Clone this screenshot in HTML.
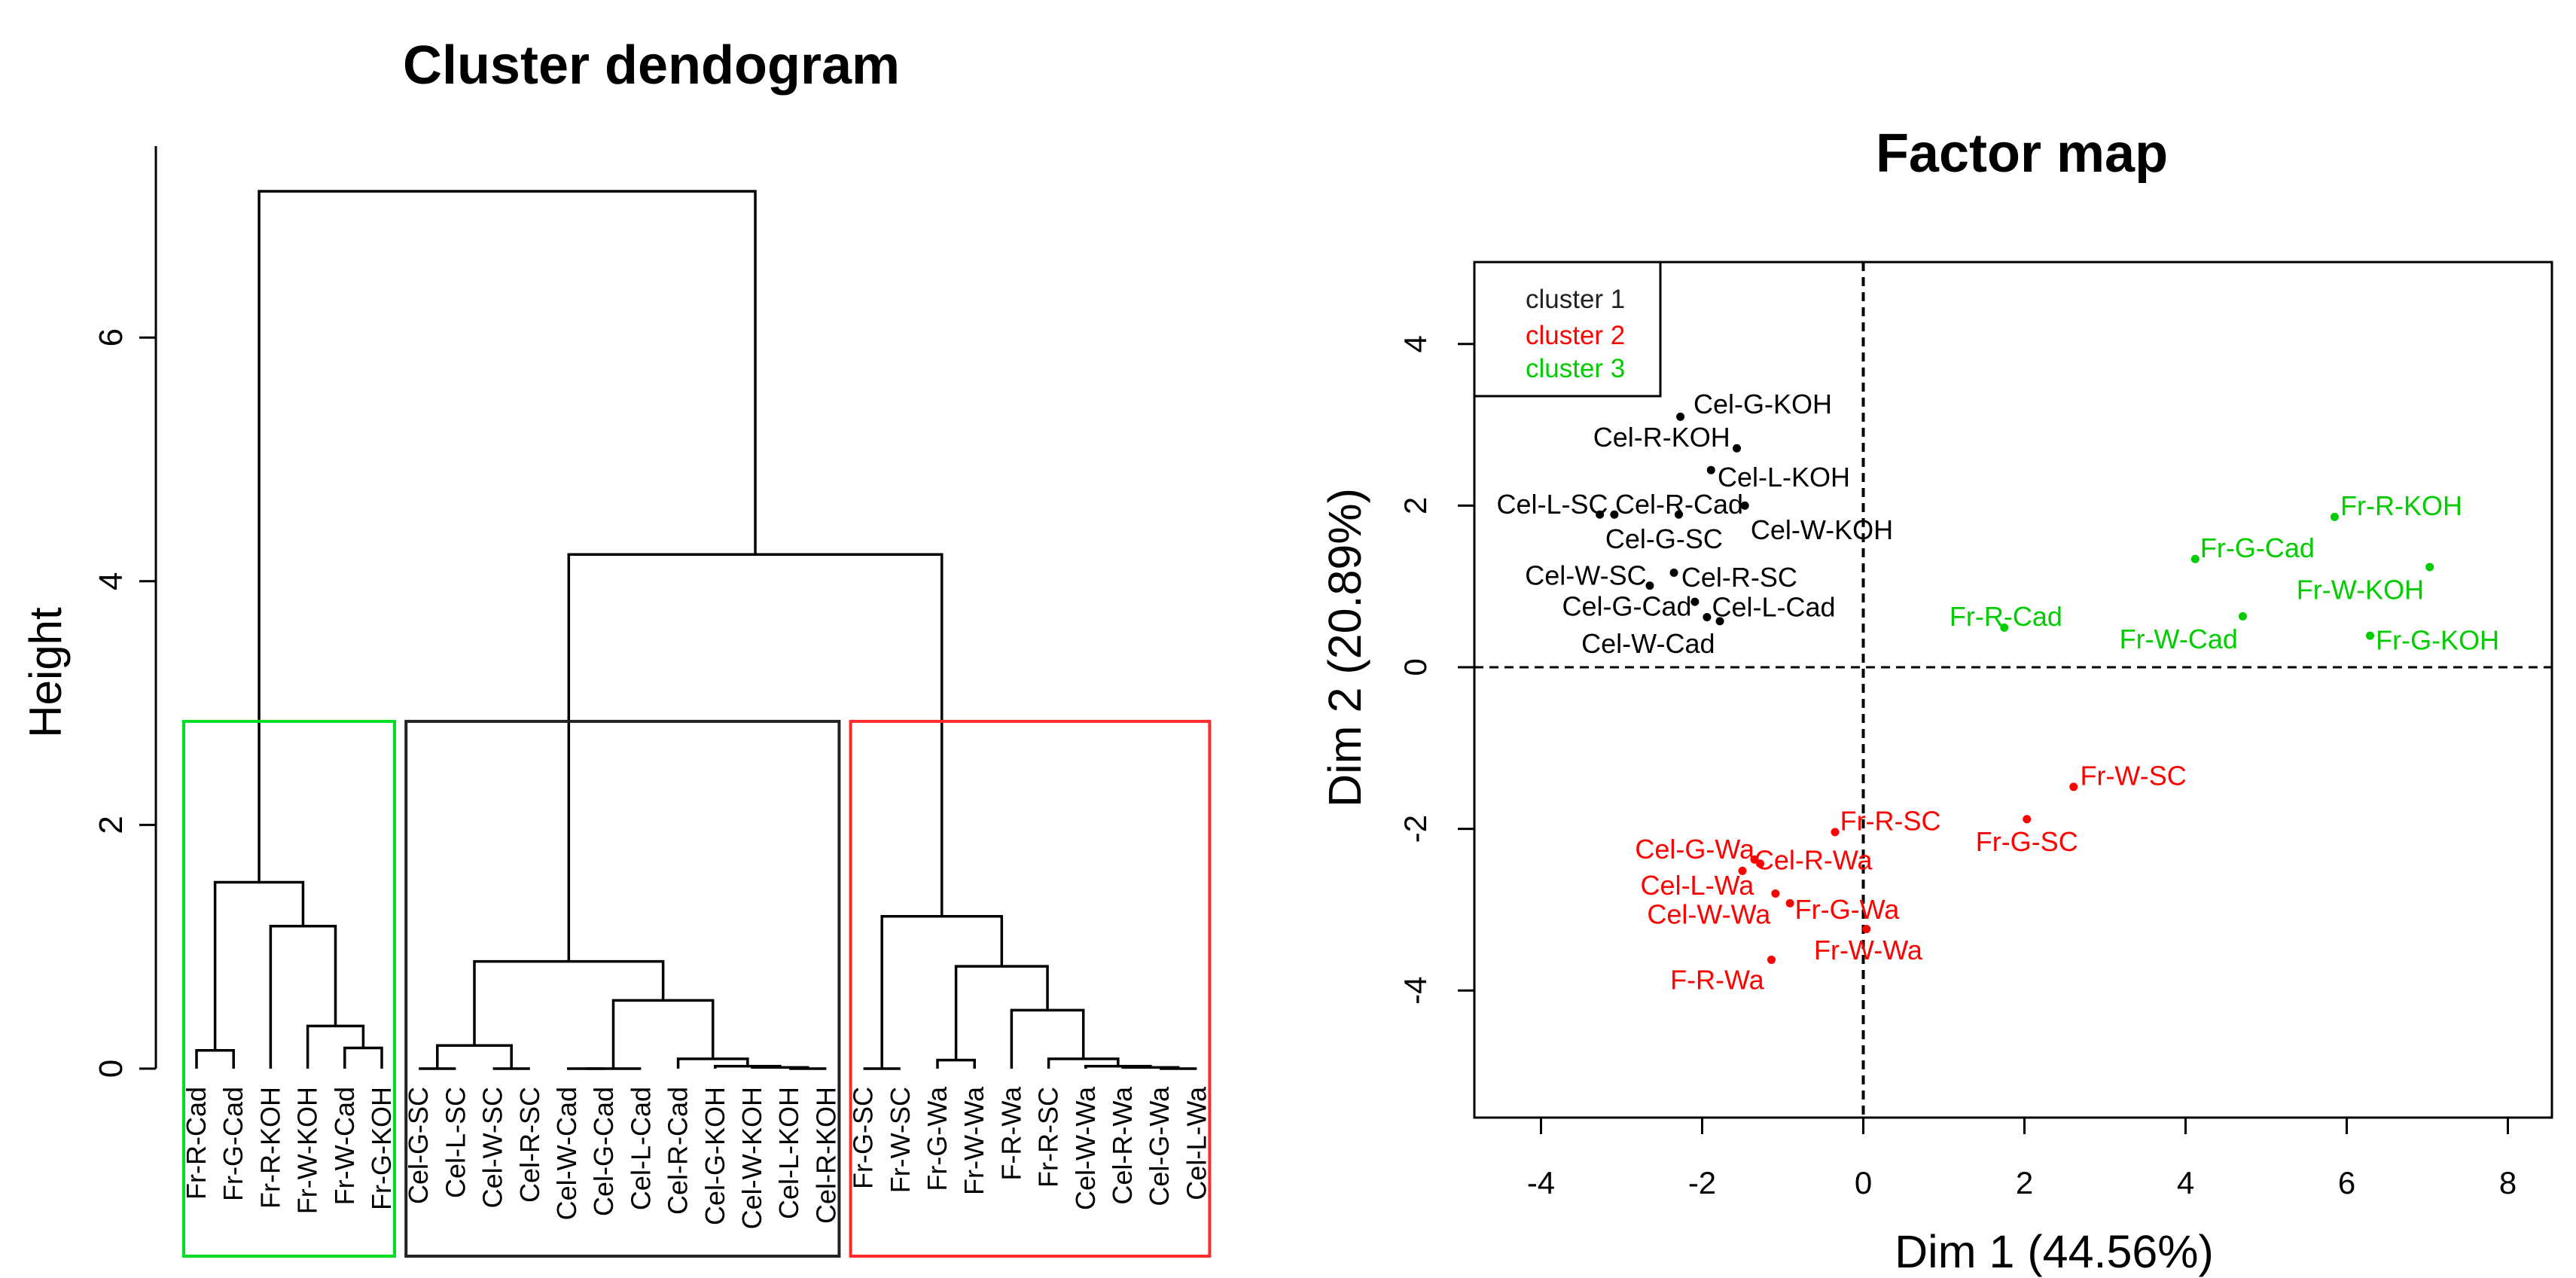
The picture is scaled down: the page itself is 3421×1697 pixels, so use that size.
<!DOCTYPE html>
<html><head><meta charset="utf-8"><title>Cluster dendrogram and factor map</title>
<style>
html,body{margin:0;padding:0;background:#fff;}
svg{display:block;font-family:"Liberation Sans",Arial,sans-serif;}
</style></head>
<body>
<svg id="fig" width="3421" height="1697" viewBox="0 0 3421 1697" xmlns="http://www.w3.org/2000/svg">
<rect width="3421" height="1697" fill="#fff"/>
<g id="dendro"></g>
<g id="fmap"></g>
</svg>
<script>
// ---------- Dendrogram data ----------
const leafLabels = ["Fr-R-Cad","Fr-G-Cad","Fr-R-KOH","Fr-W-KOH","Fr-W-Cad","Fr-G-KOH",
 "Cel-G-SC","Cel-L-SC","Cel-W-SC","Cel-R-SC","Cel-W-Cad","Cel-G-Cad","Cel-L-Cad","Cel-R-Cad","Cel-G-KOH","Cel-W-KOH","Cel-L-KOH","Cel-R-KOH",
 "Fr-G-SC","Fr-W-SC","Fr-G-Wa","Fr-W-Wa","F-R-Wa","Fr-R-SC","Cel-W-Wa","Cel-R-Wa","Cel-G-Wa","Cel-L-Wa"];
// child >= 0 : leaf index ; child < 0 : merge index (-c-1)
const mergeLeft  = [0,4,3,2,-1, 6,8,-6,10,-9,16,15,14,13,-10,-8, 18,20,26,25,24,23,22,-18,-17,-16,-5];
const mergeRight = [1,5,-2,-3,-4, 7,9,-7,11,12,17,-11,-12,-13,-14,-15, 19,21,27,-19,-20,-21,-22,-23,-24,-25,-26];
const mergeHeight= [0.15,0.17,0.35,1.17,1.53, 0.0,0.0,0.19,0.0,0.0,0.0,0.01,0.02,0.08,0.56,0.88, 0.0,0.07,0.0,0.01,0.02,0.08,0.48,0.84,1.25,4.22,7.2];
const clusterFirst = [0,6,18];
const clusterLast  = [5,17,27];
const clusterColors = ["#00dd22","#222222","#ff2a2a"];
const boxHeight = 2.85;
const dendroTicks = [0,2,4,6];

// ---------- Factor map data ----------
const pointNames = ["Cel-G-KOH","Cel-R-KOH","Cel-L-KOH","Cel-W-KOH","Cel-L-SC","Cel-R-Cad","Cel-G-SC","Cel-W-SC","Cel-R-SC","Cel-G-Cad","Cel-L-Cad","Cel-W-Cad",
 "Fr-R-KOH","Fr-G-Cad","Fr-W-KOH","Fr-W-Cad","Fr-R-Cad","Fr-G-KOH",
 "Fr-W-SC","Fr-G-SC","Fr-R-SC","Cel-G-Wa","Cel-R-Wa","Cel-L-Wa","Cel-W-Wa","Fr-G-Wa","Fr-W-Wa","F-R-Wa"];
const dim1 = [-2.27,-1.57,-1.89,-1.47,-3.27,-3.09,-2.29,-2.65,-2.35,-2.09,-1.94,-1.78,
 5.85,4.12,7.03,4.71,1.75,6.29,
 2.61,2.03,-0.35,-1.35,-1.28,-1.50,-1.09,-0.91,0.04,-1.14];
const dim2 = [3.10,2.71,2.44,2.00,1.89,1.89,1.89,1.01,1.17,0.81,0.62,0.57,
 1.86,1.34,1.24,0.63,0.49,0.39,
 -1.48,-1.88,-2.04,-2.38,-2.43,-2.52,-2.80,-2.92,-3.24,-3.62];
const pointCluster = [0,0,0,0,0,0,0,0,0,0,0,0, 2,2,2,2,2,2, 1,1,1,1,1,1,1,1,1,1];
const xTicks = [-4,-2,0,2,4,6,8];
const yTicks = [-4,-2,0,2,4];
const legendLabels = ["cluster 1","cluster 2","cluster 3"];
const legendColors = ["#222222","#ff0000","#00cc00"];
// label placement (style, not data): [dx, dy, anchor]
const labelPlace = [[16,-16,"start"],[-8,-14,"end"],[8,8,"start"],[7,29,"start"],[10,-13,"end"],[1,-13,"start"],[-18,29,"middle"],[-4,-13,"end"],[9,5,"start"],[-4,5,"end"],[6,-13,"start"],[-6,27,"end"],
 [7,-14,"start"],[6,-14,"start"],[-7,27,"end"],[-6,27,"end"],[2,-14,"middle"],[7,5,"start"],
 [8,-14,"start"],[0,27,"middle"],[6,-14,"start"],[0,-13,"end"],[-7,-5,"start"],[14,17,"end"],[-6,25,"end"],[6,7,"start"],[2,25,"middle"],[-9,24,"end"]];
const ptColors = ["#000000","#ff0000","#00cc00"];

const NS="http://www.w3.org/2000/svg";
function mk(parent,tag,attrs,text){const e=document.createElementNS(NS,tag);for(const k in attrs)e.setAttribute(k,attrs[k]);if(text!==undefined)e.textContent=text;parent.appendChild(e);return e;}

// ---------- Draw dendrogram ----------
(function(){
 const g=document.getElementById('dendro');
 const x0=261, dx=49.2, yBase=1419, yUnit=161.8;
 const lx=i=>x0+i*dx;
 const hy=h=>yBase-h*yUnit;
 let t=mk(g,'text',{x:865,y:111,'font-size':72,'font-weight':'bold','text-anchor':'middle'},'Cluster dendogram');
 
 
 let ax=mk(g,'line',{x1:207,y1:194,x2:207,y2:yBase,stroke:'#000','stroke-width':3});
 
 
 dendroTicks.forEach(v=>{
  const tk=mk(g,'line',{x1:185,y1:hy(v),x2:207,y2:hy(v),stroke:'#000','stroke-width':3});
  
  
  const tl=mk(g,'text',{x:0,y:0,'font-size':44,'text-anchor':'middle',transform:`translate(162,${hy(v)}) rotate(-90)`},String(v));
  
  
 });
 let yl=mk(g,'text',{x:0,y:0,'font-size':60,'text-anchor':'middle',transform:'translate(81,893) rotate(-90)'},'Height');
 
 
 const mx=[];
 const cx=c=>c>=0?lx(c):mx[-c-1];
 const cy=c=>c>=0?yBase:hy(mergeHeight[-c-1]);
 for(let k=0;k<mergeHeight.length;k++){
  const a=mergeLeft[k], b=mergeRight[k], h=hy(mergeHeight[k]);
  const xa=cx(a), xb=cx(b);
  mx[k]=(xa+xb)/2;
  const p=mk(g,'path',{d:`M${xa},${cy(a)}V${h}H${xb}V${cy(b)}`,fill:'none',stroke:'#000','stroke-width':3.5});
  
  
 }
 leafLabels.forEach((s,i)=>{
  const tl=mk(g,'text',{x:0,y:0,'font-size':36,'text-anchor':'end',transform:`translate(${lx(i)+12},1443) rotate(-90)`},s);
  
  
 });
 clusterFirst.forEach((f,i)=>{
  const l=clusterLast[i];
  const r=mk(g,'rect',{x:lx(f)-17,y:hy(boxHeight),width:lx(l)-lx(f)+34,height:1668-hy(boxHeight),fill:'none',stroke:clusterColors[i],'stroke-width':4});
  
  
 });
})();

// ---------- Draw factor map ----------
(function(){
 const g=document.getElementById('fmap');
 const X0=2474.5, XU=107.0, Y0=886, YU=107.3;
 const sx=v=>X0+v*XU, sy=v=>Y0-v*YU;
 const L=1958,R=3389,T=348,B=1484;
 let t=mk(g,'text',{x:2685,y:228,'font-size':72,'font-weight':'bold','text-anchor':'middle'},'Factor map');
 
 
 let box=mk(g,'rect',{x:L,y:T,width:R-L,height:B-T,fill:'none',stroke:'#000','stroke-width':3});
 
 
 let v0=mk(g,'line',{x1:sx(0),y1:T,x2:sx(0),y2:B,stroke:'#000','stroke-width':4,'stroke-dasharray':'12 8'});
 
 
 let h0=mk(g,'line',{x1:L,y1:sy(0),x2:R,y2:sy(0),stroke:'#000','stroke-width':3,'stroke-dasharray':'12 8'});
 
 
 xTicks.forEach(v=>{
  const tk=mk(g,'line',{x1:sx(v),y1:B,x2:sx(v),y2:B+22,stroke:'#000','stroke-width':3});
  
  
  const tl=mk(g,'text',{x:sx(v),y:1585,'font-size':42,'text-anchor':'middle'},String(v));
  
  
 });
 yTicks.forEach(v=>{
  const tk=mk(g,'line',{x1:L-22,y1:sy(v),x2:L,y2:sy(v),stroke:'#000','stroke-width':3});
  
  
  const tl=mk(g,'text',{x:0,y:0,'font-size':42,'text-anchor':'middle',transform:`translate(1894,${sy(v)}) rotate(-90)`},String(v));
  
  
 });
 let xl=mk(g,'text',{x:2728,y:1683,'font-size':61,'text-anchor':'middle'},'Dim 1 (44.56%)');
 
 
 let yl=mk(g,'text',{x:0,y:0,'font-size':61,'text-anchor':'middle',transform:'translate(1807,860) rotate(-90)'},'Dim 2 (20.89%)');
 
 
 let lg=mk(g,'rect',{x:L,y:T,width:247,height:178,fill:'#fff',stroke:'#000','stroke-width':3});
 
 
 legendLabels.forEach((s,i)=>{
  const tl=mk(g,'text',{x:2026,y:[409,457,501][i],'font-size':35,fill:legendColors[i]},s);
  
  
 });
 const k=1.089;
 pointNames.forEach((s,i)=>{
  const px=sx(dim1[i]), py=sy(dim2[i]), col=ptColors[pointCluster[i]];
  const c=mk(g,'circle',{cx:px,cy:py,r:5.5,fill:col});
  
  
  const lp=labelPlace[i];
  const tl=mk(g,'text',{x:px+lp[0]*k,y:py+lp[1]*k+13,'font-size':36,'text-anchor':lp[2],fill:col},s);
  
  
 });
})();
</script>
</body></html>
